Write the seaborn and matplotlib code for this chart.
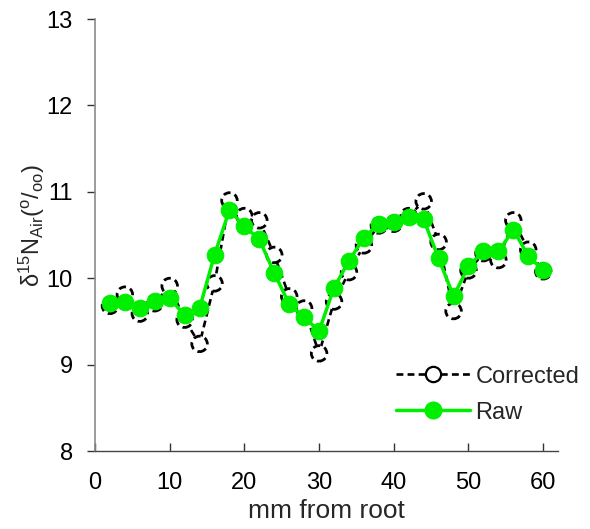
import numpy as np
import pandas as pd
import matplotlib
matplotlib.use("Agg")
import matplotlib.pyplot as plt
from matplotlib.lines import Line2D
import seaborn as sns

mm = [2, 4, 6, 8, 10, 12, 14, 16, 18, 20, 22, 24, 26, 28, 30,
      32, 34, 36, 38, 40, 42, 44, 46, 48, 50, 52, 54, 56, 58, 60]
raw = [9.71, 9.73, 9.66, 9.74, 9.77, 9.57, 9.65, 10.27, 10.79, 10.60,
       10.45, 10.06, 9.70, 9.55, 9.39, 9.89, 10.20, 10.47, 10.63, 10.65,
       10.71, 10.68, 10.23, 9.79, 10.14, 10.31, 10.31, 10.56, 10.26, 10.09]
corrected = [9.68, 9.81, 9.59, 9.71, 9.91, 9.52, 9.24, 9.94, 10.90, 10.72,
             10.67, 10.27, 9.79, 9.65, 9.13, 9.73, 10.07, 10.38, 10.61, 10.63,
             10.72, 10.89, 10.42, 9.62, 10.09, 10.29, 10.21, 10.67, 10.33, 10.08]
xticks = [0, 10, 20, 30, 40, 50, 60]
yticks = [8, 9, 10, 11, 12, 13]

sns.set_theme(style="white")
plt.rcParams['font.family'] = ['Liberation Sans', 'DejaVu Sans']
plt.rcParams['mathtext.fontset'] = 'custom'
plt.rcParams['mathtext.rm'] = 'Liberation Sans'
plt.rcParams['mathtext.it'] = 'Liberation Sans'
plt.rcParams['mathtext.default'] = 'regular'

df = pd.DataFrame({"mm": mm, "raw": raw, "corrected": corrected})

fig = plt.figure(figsize=(5.9, 5.29), dpi=100)
ax = fig.add_axes([0.161, 0.1474, 0.785, 0.8166])

FS = 17
green = "#00ee00"
dash = (0, (2.6, 1.6))
sns.lineplot(data=df, x="mm", y="corrected", ax=ax, color="black",
             linestyle=dash, linewidth=1.9, zorder=2)
sns.scatterplot(data=df, x="mm", y="corrected", ax=ax, s=125,
                facecolor="white", edgecolor="black", linewidth=2.0,
                linestyle=dash, zorder=3)
sns.lineplot(data=df, x="mm", y="raw", ax=ax, color=green, linewidth=2.5,
             marker="o", markersize=12, markeredgecolor=green,
             markerfacecolor=green, zorder=4)

ax.set_xlim(0, 62)
ax.set_ylim(8, 13)
ax.set_xticks(xticks)
ax.set_yticks(yticks)
ax.tick_params(axis='x', direction='in', length=6, width=1, colors='#333333',
               labelsize=FS, labelcolor='black', pad=15)
ax.tick_params(axis='y', direction='out', length=6, width=1, colors='#333333',
               labelsize=FS, labelcolor='black', pad=10)
ax.tick_params(left=True, bottom=True)
for s in ['top', 'right']:
    ax.spines[s].set_visible(False)
ax.spines['left'].set_color('#8a8a8a')
ax.spines['left'].set_linewidth(1.2)
ax.spines['bottom'].set_color('#444444')
ax.spines['bottom'].set_linewidth(1.0)

ax.set_xlabel("mm from root", fontsize=19, labelpad=4)
ax.set_ylabel("δ$^{15}$N$_{Air}$($^{o}$/$_{oo}$)", fontsize=17)
ax.yaxis.set_label_coords(-0.104, 0.523)

handles = [
    Line2D([], [], color='black', linestyle=dash, linewidth=1.9,
           marker='o', markersize=11, markerfacecolor='white',
           markeredgecolor='black', markeredgewidth=1.6),
    Line2D([], [], color=green, linewidth=2.5, marker='o', markersize=12,
           markerfacecolor=green, markeredgecolor=green),
]
fig.legend(handles, ["Corrected", "Raw"], loc='upper left',
           bbox_to_anchor=(0.672, 0.309), frameon=False, fontsize=FS,
           handlelength=3.1, handletextpad=0.25, labelspacing=0.6,
           borderpad=0, borderaxespad=0)

fig.savefig("out.png", dpi=100)
